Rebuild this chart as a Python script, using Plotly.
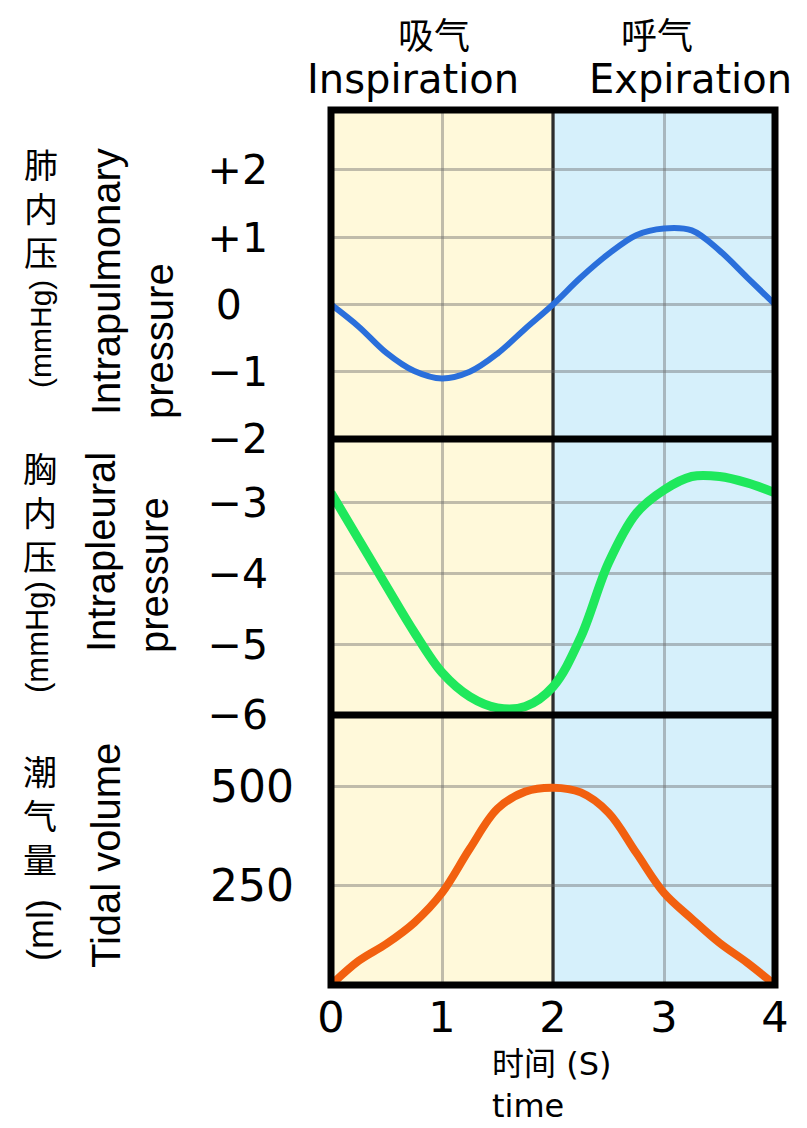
import plotly.graph_objects as go

# ---------------- data ----------------
time_s = [0, 0.25, 0.5, 0.75, 1, 1.25, 1.5, 1.75, 2, 2.25, 2.5, 2.75, 3, 3.25, 3.5, 3.75, 4]
intrapulmonary = [0, -0.33, -0.72, -0.99, -1.1, -1.0, -0.73, -0.36, 0, 0.4, 0.75, 1.03, 1.13, 1.1, 0.8, 0.4, 0]
intrapleural = [-2.86, -3.52, -4.18, -4.83, -5.4, -5.74, -5.9, -5.88, -5.6, -4.9, -3.85, -3.15, -2.82, -2.63, -2.63, -2.72, -2.86]
tidal_volume = [0, 61, 104, 157, 232, 343, 444, 487, 497, 485, 434, 333, 232, 167, 106, 56, 0]

x_ticks = [0, 1, 2, 3, 4]
pulm_ticks = [-2, -1, 0, 1, 2]
pulm_labels = ["\u22122", "\u22121", "0\u2007", "+1", "+2"]
pleu_ticks = [-6, -5, -4, -3]
pleu_labels = ["\u22126", "\u22125", "\u22124", "\u22123"]
tv_ticks = [250, 500]
tv_labels = ["250", "500"]

# ---------------- layout helpers ----------------
# the page body has an 8px margin, so the figure is sized to fit the window
OFF = 8
W, H = 807 - OFF, 1128 - OFF
def px(x):
    return (x - OFF) / W
def py(y):
    return 1 - (y - OFF) / H

LATIN = "DejaVu Sans"
ROT = "Liberation Sans"
CJK = "Noto Sans CJK SC"

X0, X1 = 331, 775
Y_TOP, Y_S1, Y_S2, Y_BOT = 110, 439, 715, 985

YELLOW = "#FFF9DA"
BLUE = "#D6F0FB"
GRID = "rgba(105,105,105,0.42)"

fig = go.Figure()
fig.add_trace(go.Scatter(x=time_s, y=intrapulmonary, mode="lines", line=dict(color="#2A6FDB", width=6, shape="spline"),
                         xaxis="x", yaxis="y", showlegend=False))
fig.add_trace(go.Scatter(x=time_s, y=intrapleural, mode="lines", line=dict(color="#1FE85C", width=9, shape="spline"),
                         xaxis="x2", yaxis="y2", showlegend=False))
fig.add_trace(go.Scatter(x=time_s, y=tidal_volume, mode="lines", line=dict(color="#F2600F", width=8, shape="spline"),
                         xaxis="x3", yaxis="y3", showlegend=False))

xcommon = dict(domain=[px(X0), px(X1)], range=[0, 4], tickvals=x_ticks, showgrid=True, gridcolor=GRID,
               gridwidth=2.5, zeroline=False, showline=False, ticks="", fixedrange=True, automargin=False)
ycommon = dict(showgrid=True, gridcolor=GRID, gridwidth=2.5, zeroline=False, showline=False, ticks="",
               tickfont=dict(family=LATIN, size=41, color="black"), fixedrange=True, automargin=False)

fig.update_layout(
    width=W, height=H,
    margin=dict(l=0, r=0, t=0, b=0, autoexpand=False),
    paper_bgcolor="white", plot_bgcolor="rgba(0,0,0,0)",
    xaxis=dict(**xcommon, anchor="y", showticklabels=False),
    xaxis2=dict(**xcommon, anchor="y2", showticklabels=False),
    xaxis3=dict(**xcommon, anchor="y3", showticklabels=True,
                tickfont=dict(family=LATIN, size=43, color="black"), ticklabelstandoff=3),
    yaxis=dict(**ycommon, anchor="x", domain=[py(Y_S1), py(Y_TOP)], range=[-2, 2.89],
               tickvals=pulm_ticks, ticktext=pulm_labels, ticklabelstandoff=62),
    yaxis2=dict(**ycommon, anchor="x2", domain=[py(Y_S2), py(Y_S1)], range=[-6, -2.1],
                tickvals=pleu_ticks, ticktext=pleu_labels, ticklabelstandoff=62),
    yaxis3=dict(**{**ycommon, "tickfont": dict(family=LATIN, size=44, color="black")}, anchor="x3",
                domain=[py(Y_BOT), py(Y_S2)], range=[0, 680],
                tickvals=tv_ticks, ticktext=tv_labels, ticklabelstandoff=36),
)

shapes = [
    dict(type="rect", xref="x", yref="paper", x0=0, x1=2, y0=py(Y_BOT), y1=py(Y_TOP),
         fillcolor=YELLOW, line=dict(width=0), layer="below"),
    dict(type="rect", xref="x", yref="paper", x0=2, x1=4, y0=py(Y_BOT), y1=py(Y_TOP),
         fillcolor=BLUE, line=dict(width=0), layer="below"),
    dict(type="line", xref="x", yref="paper", x0=2, x1=2, y0=py(Y_BOT), y1=py(Y_TOP),
         line=dict(color="black", width=3), layer="between"),
    dict(type="line", xref="paper", yref="paper", x0=px(X0), x1=px(X1), y0=py(Y_S1), y1=py(Y_S1),
         line=dict(color="black", width=7), layer="above"),
    dict(type="line", xref="paper", yref="paper", x0=px(X0), x1=px(X1), y0=py(Y_S2), y1=py(Y_S2),
         line=dict(color="black", width=7), layer="above"),
    dict(type="rect", xref="paper", yref="paper", x0=px(X0), x1=px(X1), y0=py(Y_BOT), y1=py(Y_TOP),
         line=dict(color="black", width=7), fillcolor="rgba(0,0,0,0)", layer="above"),
]
fig.update_layout(shapes=shapes)

def ann(text, x, y, family, size, angle=0, xanchor="center", yanchor="middle", align="center"):
    return dict(text=text, x=px(x), y=py(y), xref="paper", yref="paper", showarrow=False,
                xanchor=xanchor, yanchor=yanchor, textangle=angle, align=align,
                font=dict(family=family, size=size, color="black"))

annotations = [
    ann("吸气", 434, 33, CJK, 36),
    ann("Inspiration", 413, 79, LATIN, 40),
    ann("呼气", 657, 33, CJK, 36),
    ann("Expiration", 690, 79, LATIN, 40),
    # top panel labels
    ann("肺<br>内<br>压", 41, 207, CJK, 34),
    ann("(mmHg)", 40, 334, ROT, 30, angle=-90),
    ann("Intrapulmonary", 106, 282, ROT, 40, angle=-90),
    ann("pressure", 159, 341, ROT, 40, angle=-90),
    # middle panel labels
    ann("胸<br>内<br>压", 40, 511, CJK, 34),
    ann("(mmHg)", 37, 637, ROT, 31, angle=-90),
    ann("Intrapleural", 101, 552, ROT, 40, angle=-90),
    ann("pressure", 154, 575, ROT, 40, angle=-90),
    # bottom panel labels
    ann("潮<br>气<br>量", 40, 814, CJK, 34),
    ann("(ml)", 40, 930, ROT, 36, angle=-90),
    ann("Tidal volume", 106, 856, ROT, 40, angle=-90),
    # x axis title (two left-aligned lines)
    ann("时间 (S)<br>time", 490, 1127, f"{LATIN}, {CJK}", 32, xanchor="left", yanchor="bottom", align="left"),
]
fig.update_layout(annotations=annotations)

fig.write_html("out.html")
